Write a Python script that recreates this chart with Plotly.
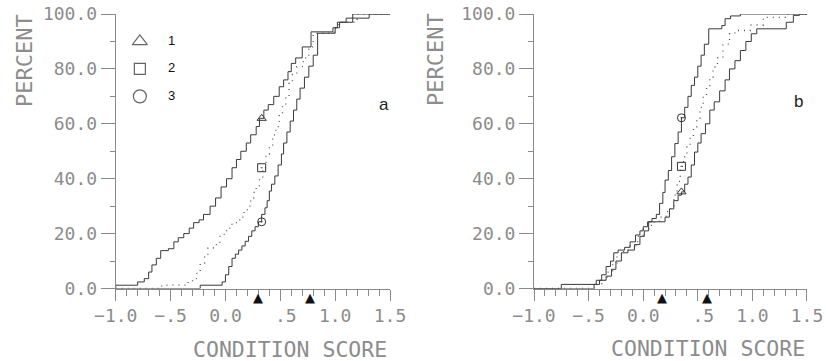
import plotly.graph_objects as go

# ---------------- data ----------------
# Panel a : cumulative percent step curves (x = condition score at each step, pct = percent after step)
a1_x = [-1.00, -0.80, -0.74, -0.70, -0.67, -0.63, -0.59, -0.52, -0.47, -0.43, -0.38, -0.33, -0.29, -0.24,
        -0.20, -0.14, -0.09, -0.04, 0.01, 0.06, 0.10, 0.14, 0.19, 0.23, 0.28, 0.31, 0.35, 0.39, 0.44, 0.49,
        0.53, 0.57, 0.60, 0.64, 0.70, 0.78, 0.98, 1.02, 1.16]
a1_pct = [1.2, 2.4, 3.6, 6, 8.6, 11, 13.8, 14.5, 17, 18.5, 20, 22, 24, 25, 27, 30, 33, 37, 40, 44, 47, 50,
          53, 56, 59, 62, 65, 67, 70, 73.5, 76, 79, 82, 84, 88, 93.5, 95, 97, 100]

a2_x = [-0.58, -0.34, -0.30, -0.26, -0.23, -0.19, -0.16, -0.11, -0.05, 0.01, 0.06, 0.13, 0.17, 0.20, 0.23,
        0.26, 0.28, 0.31, 0.34, 0.37, 0.40, 0.43, 0.46, 0.49, 0.52, 0.55, 0.58, 0.61, 0.65, 0.71, 0.76,
        0.80, 0.99, 1.03, 1.20]
a2_pct = [1.2, 2.4, 3.6, 6, 9.3, 12, 14.7, 16, 19.7, 22, 24, 26, 28, 30, 33, 35, 37, 40, 44, 49, 52, 56,
          59, 63, 66.6, 70, 74.7, 78, 80.8, 84, 88, 93, 95, 97, 100]

a3_x = [-0.23, -0.03, 0.00, 0.03, 0.06, 0.09, 0.12, 0.15, 0.18, 0.21, 0.24, 0.27, 0.30, 0.33, 0.36, 0.38,
        0.40, 0.42, 0.45, 0.48, 0.51, 0.53, 0.56, 0.59, 0.62, 0.65, 0.68, 0.72, 0.76, 0.80, 0.84, 1.00,
        1.04, 1.10, 1.31]
a3_pct = [1.2, 2.4, 5, 8, 11, 12.5, 14, 15.5, 17.2, 19, 21, 22.5, 24.3, 27, 29.4, 32, 35.5, 38, 41, 45,
          49, 53, 57, 61, 65, 69, 73, 77, 81, 85, 93, 95, 97, 98.5, 100]

# Panel b
b1_x = [-0.45, -0.40, -0.34, -0.29, -0.25, -0.20, -0.14, -0.08, -0.03, 0.01, 0.05, 0.20, 0.24, 0.28, 0.32,
        0.35, 0.38, 0.41, 0.44, 0.47, 0.50, 0.53, 0.57, 0.61, 0.65, 0.70, 0.75, 0.79, 0.84, 0.89, 0.94,
        0.99, 1.04, 1.31, 1.375, 1.43]
b1_pct = [1.5, 3, 4.5, 7, 10, 13, 14, 16, 19, 21, 24.3, 26, 29, 32, 34, 35.2, 38, 40.6, 45, 49.7, 53,
          56.4, 60, 65, 68, 72, 76, 80, 83, 86.7, 90, 92.8, 94.6, 97, 99.5, 100]

b2_x = [-0.44, -0.38, -0.33, -0.28, -0.24, -0.18, -0.12, -0.05, 0.00, 0.05, 0.10, 0.15, 0.21, 0.25, 0.28,
        0.31, 0.34, 0.37, 0.40, 0.43, 0.46, 0.49, 0.52, 0.55, 0.58, 0.61, 0.64, 0.68, 0.73, 0.79, 0.84,
        0.98, 1.10, 1.30]
b2_pct = [1.5, 3, 6, 9, 12, 14, 15.5, 19, 21.5, 23, 24.5, 26, 28, 30, 34, 39, 44.5, 48, 51.6, 55, 58.8,
          62, 66, 70, 73.4, 77, 80.7, 84, 89, 92.8, 94, 96, 98.8, 100]

b3_x = [-0.75, -0.43, -0.38, -0.34, -0.30, -0.27, -0.23, -0.17, -0.12, -0.07, -0.03, 0.00, 0.04, 0.08,
        0.12, 0.15, 0.18, 0.20, 0.23, 0.26, 0.29, 0.32, 0.35, 0.38, 0.41, 0.44, 0.47, 0.50, 0.53, 0.56,
        0.60, 0.72, 0.75, 0.80, 0.89]
b3_pct = [1.5, 3, 5, 8, 10, 13, 14, 15, 17, 19.5, 21, 22.5, 24.3, 25.5, 27, 31, 35, 39.5, 43, 48, 52.8,
          57, 62.2, 66, 70, 74, 77, 81, 85, 89, 94.6, 95.8, 98.3, 99.3, 100]

# Markers on the curves (group 1, 2, 3)
a_mark_x = [0.33, 0.33, 0.33]
a_mark_pct = [62, 44, 24.3]
b_mark_x = [0.35, 0.35, 0.35]
b_mark_pct = [35.2, 44.5, 62.2]

# Arrows under the x axis
a_arrows = [0.30, 0.77]
b_arrows = [0.17, 0.58]

# Legend
legend_labels = ["1", "2", "3"]
legend_pct = [90, 80, 70]

x_tickvals = [-1.0, -0.5, 0.0, 0.5, 1.0, 1.5]
x_ticktext = ["\u22121.0", "\u2212.5", "0.0", " .5", "1.0", "1.5"]
y_tickvals = [0, 20, 40, 60, 80, 100]
y_ticktext = ["0.0", "20.0", "40.0", "60.0", "80.0", "100.0"]

# ---------------- styling ----------------
LINE = "#3a3a3a"
AXC = "#8a8a8a"
TXT = "#8c8c8c"
FONT = "DejaVu Sans Mono"
symbols_open = ["triangle-up-open", "square-open-dot", "circle-open-dot"]

fig = go.Figure()


def step_trace(xs, ys, xa, ya, dotted=False):
    x = [-1.0] + list(xs) + [1.5]
    y = [0] + list(ys) + [ys[-1]]
    return go.Scatter(x=x, y=y, mode="lines", line_shape="hv", xaxis=xa, yaxis=ya,
                      line=dict(color=LINE if not dotted else "#555555", width=1 if not dotted else 1.3,
                                dash="solid" if not dotted else "1px,5px"),
                      showlegend=False, hoverinfo="skip")


for (xs, ys, d) in [(a1_x, a1_pct, False), (a2_x, a2_pct, True), (a3_x, a3_pct, False)]:
    fig.add_trace(step_trace(xs, ys, "x", "y", d))
for (xs, ys, d) in [(b1_x, b1_pct, False), (b2_x, b2_pct, True), (b3_x, b3_pct, False)]:
    fig.add_trace(step_trace(xs, ys, "x2", "y2", d))

# curve markers
fig.add_trace(go.Scatter(x=a_mark_x, y=a_mark_pct, mode="markers", xaxis="x", yaxis="y",
                         marker=dict(symbol=symbols_open, size=8, color="#333",
                                     line=dict(width=1, color="#333")),
                         showlegend=False, hoverinfo="skip"))
fig.add_trace(go.Scatter(x=b_mark_x, y=b_mark_pct, mode="markers", xaxis="x2", yaxis="y2",
                         marker=dict(symbol=symbols_open, size=8, color="#333",
                                     line=dict(width=1, color="#333")),
                         showlegend=False, hoverinfo="skip"))

# legend (in panel a)
fig.add_trace(go.Scatter(x=[-0.78] * 3, y=legend_pct, mode="markers", xaxis="x", yaxis="y",
                         marker=dict(symbol=["triangle-up-open", "square-open", "circle-open"],
                                     size=[13, 11, 13], color="#222", line=dict(width=1.2, color="#222")),
                         showlegend=False, hoverinfo="skip"))
fig.add_trace(go.Scatter(x=[-0.49] * 3, y=legend_pct, mode="text", xaxis="x", yaxis="y",
                         text=legend_labels, textfont=dict(family="Liberation Sans", size=13, color="#111"),
                         showlegend=False, hoverinfo="skip"))

axis_common = dict(showline=True, linecolor=AXC, linewidth=1, ticks="outside", tickcolor=AXC,
                   showgrid=False, zeroline=False, mirror=False, automargin=False,
                   tickfont=dict(family=FONT, size=18, color=TXT))

xdef = dict(axis_common, range=[-1.0, 1.5], tickmode="array", tickvals=x_tickvals, ticktext=x_ticktext,
            ticklen=11, tickwidth=1,
            minor=dict(tickmode="linear", tick0=-1.0, dtick=0.1, ticklen=6, ticks="outside",
                       tickcolor=AXC, tickwidth=1))
ydef = dict(axis_common, range=[0, 100], tickmode="array", tickvals=y_tickvals, ticktext=y_ticktext,
            ticklen=14, tickwidth=1,
            minor=dict(tickmode="linear", tick0=0, dtick=10, ticklen=5, ticks="outside",
                       tickcolor=AXC, tickwidth=1))


def ann(text, px, py, size, fam=FONT, color=TXT, angle=0):
    return dict(text=text, x=px / 826, y=1 - py / 361, xref="paper", yref="paper", showarrow=False,
                xanchor="center", yanchor="middle", textangle=angle,
                font=dict(family=fam, size=size, color=color))


annotations = [
    ann("PERCENT", 25, 61, 22, angle=-90),
    ann("PERCENT", 435.5, 59.5, 22, angle=-90),
    ann("CONDITION SCORE", 289.5, 349, 21.5),
    ann("CONDITION SCORE", 708, 348, 21.5),
    ann("a", 384, 104, 17, fam="Liberation Sans", color="#222"),
    ann("b", 798, 101, 17, fam="Liberation Sans", color="#222"),
]
# arrow heads below the x axis at the given condition scores
for xref, vals in [("x", a_arrows), ("x2", b_arrows)]:
    for v in vals:
        annotations.append(dict(text="\u25B2", x=v, y=1 - 297.5 / 361, xref=xref, yref="paper",
                                showarrow=False, xanchor="center", yanchor="middle",
                                font=dict(family="DejaVu Sans", size=13, color="#111")))

fig.update_layout(
    width=826, height=361,
    margin=dict(l=0, r=0, t=0, b=0, autoexpand=False),
    paper_bgcolor="white", plot_bgcolor="white",
    xaxis=dict(xdef, domain=[0.1401, 0.4722], anchor="y"),
    yaxis=dict(ydef, domain=[0.2008, 0.9612], anchor="x"),
    xaxis2=dict(xdef, domain=[0.6465, 0.9770], anchor="y2"),
    yaxis2=dict(ydef, domain=[0.2008, 0.9612], anchor="x2"),
    annotations=annotations,
)

fig.write_html("out.html")
